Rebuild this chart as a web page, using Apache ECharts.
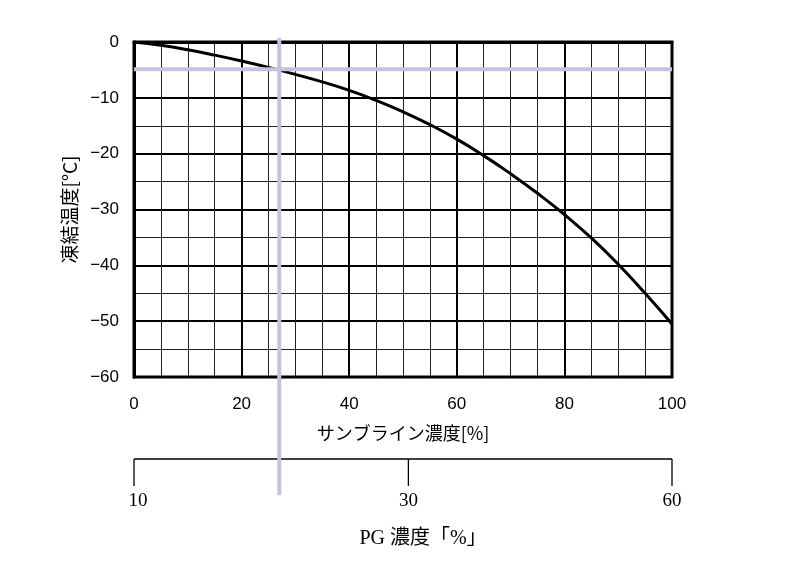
<!DOCTYPE html>
<html><head><meta charset="utf-8">
<script src="https://cdn.jsdelivr.net/npm/echarts@6/dist/echarts.min.js"></script>
<style>html,body{margin:0;padding:0;background:#fff}#c{width:798px;height:563px}</style>
</head><body><div id="c"></div>
<script>
// Data
const sunbrine = [0,5,10,15,20,25,30,35,40,45,50,55,60,65,70,75,80,85,90,95,100];
const freezeTemp = [0,-0.6,-1.4,-2.35,-3.4,-4.55,-5.8,-7.15,-8.65,-10.45,-12.5,-14.8,-17.4,-20.35,-23.6,-27.1,-30.9,-35.1,-39.8,-45.0,-50.5];
const pgLabels = ['10','30','60'];
const pgEquivSunbrine = [0, 51, 100];
const markerSunbrine = 27;
const markerTemp = -4.9;
const yTitle = '凍結温度[°C]';
const xTitle = 'サンブライン濃度[%]';
const pgTitle = 'PG 濃度「%」';

const lav = '#c6c2de';
const chart = echarts.init(document.getElementById('c'));
chart.setOption({
  animation: false,
  backgroundColor: '#fff',
  grid: [
    {left:134, right:126, top:42, height:335, show:true, borderColor:'#000', borderWidth:3},
    {left:134, right:126, top:459, height:27}
  ],
  xAxis: [
    {type:'value', gridIndex:0, min:0, max:100, interval:20,
     axisLine:{show:true, lineStyle:{color:'#000', width:3}},
     axisTick:{show:false},
     axisLabel:{color:'#000', fontSize:17, fontFamily:'Liberation Sans', margin:19},
     splitLine:{show:true, lineStyle:{color:'#000', width:2}},
     minorTick:{show:false, splitNumber:4},
     minorSplitLine:{show:true, lineStyle:{color:'#222', width:1}},
     name:xTitle, nameLocation:'middle', nameGap:47,
     nameTextStyle:{color:'#000', fontSize:18, fontFamily:'Noto Sans CJK JP'}},
    {type:'value', gridIndex:1, min:0, max:100, show:true,
     axisLine:{show:false}, axisTick:{show:false}, axisLabel:{show:false}, splitLine:{show:false},
     name:pgTitle, nameLocation:'middle', nameGap:43,
     nameTextStyle:{color:'#000', fontSize:20, fontFamily:'Liberation Serif, Noto Sans CJK JP', padding:[0,0,0,40]}}
  ],
  yAxis: [
    {type:'value', gridIndex:0, min:-60, max:0, interval:10,
     axisLine:{show:true, lineStyle:{color:'#000', width:3}},
     axisTick:{show:false},
     axisLabel:{color:'#000', fontSize:17, fontFamily:'Liberation Sans', margin:15,
       formatter: v => String(v).replace('-', '\u2212')},
     splitLine:{show:true, lineStyle:{color:'#000', width:2}},
     minorTick:{show:false, splitNumber:2},
     minorSplitLine:{show:true, lineStyle:{color:'#222', width:1}},
     name:yTitle, nameLocation:'middle', nameGap:53, nameRotate:90,
     nameTextStyle:{color:'#000', fontSize:19, fontFamily:'Noto Sans CJK JP'}},
    {type:'value', gridIndex:1, min:0, max:1, show:false}
  ],
  series: [
    {type:'line', xAxisIndex:0, yAxisIndex:0, smooth:0.5, symbol:'none',
     lineStyle:{color:'#000', width:3},
     data: sunbrine.map((x,i)=>[x, freezeTemp[i]])},
    {type:'line', xAxisIndex:0, yAxisIndex:0, symbol:'none', clip:false, z:5,
     lineStyle:{color:lav, width:4},
     data:[[0, markerTemp],[100, markerTemp]]},
    {type:'line', xAxisIndex:0, yAxisIndex:0, symbol:'none', clip:false, z:5,
     lineStyle:{color:lav, width:4},
     data:[[markerSunbrine, 0.7],[markerSunbrine, -81.2]]},
    {type:'custom', xAxisIndex:1, yAxisIndex:1, z:3,
     data: pgLabels.map((l,i)=>[pgEquivSunbrine[i], l]),
     renderItem: (params, api) => {
       const x = api.value(0);
       const top = api.coord([x, 1]);
       const bot = api.coord([x, 0]);
       const children = [
         {type:'line', shape:{x1:top[0], y1:top[1], x2:bot[0], y2:bot[1]}, style:{stroke:'#000', lineWidth:1.3}},
         {type:'text', x: bot[0] + (params.dataIndex===0 ? 4 : 0), y: bot[1]+15,
          style:{text: pgLabels[params.dataIndex], fill:'#000', fontSize:19, fontFamily:'Liberation Serif', align:'center', verticalAlign:'middle'}}
       ];
       if (params.dataIndex === 0) {
         const a = api.coord([0, 1]), b = api.coord([100, 1]);
         children.push({type:'line', shape:{x1:a[0], y1:a[1], x2:b[0], y2:b[1]}, style:{stroke:'#000', lineWidth:1.3}});
       }
       return {type:'group', children};
     }}
  ]
});
</script></body></html>
